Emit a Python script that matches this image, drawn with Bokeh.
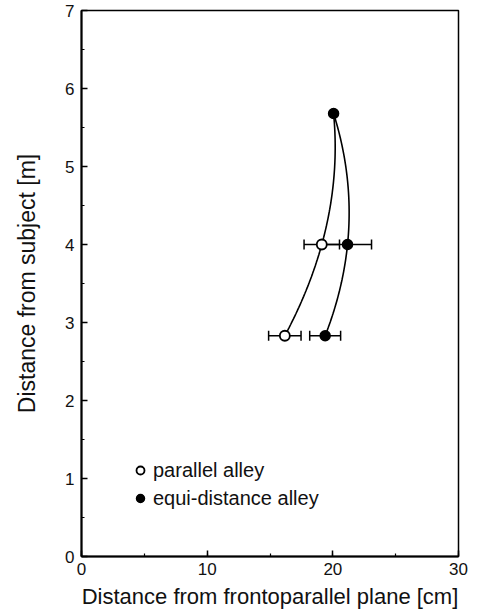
import numpy as np
from bokeh.plotting import figure
from bokeh.models import (ColumnDataSource, Whisker, TeeHead, SingleIntervalTicker,
                          Legend, LegendItem, Range1d)
from bokeh.embed import file_html
from bokeh.resources import INLINE

# ---- data ----
y_levels = [2.83, 4.0, 5.68]            # distance from subject [m]
parallel_x = [16.18, 19.12, 20.06]      # parallel alley [cm]
parallel_err = [1.29, 1.41, 0.0]
equi_x = [19.39, 21.17, 20.06]          # equi-distance alley [cm]
equi_err = [1.23, 1.91, 0.0]
x_ticks = [0, 10, 20, 30]
y_ticks = [0, 1, 2, 3, 4, 5, 6, 7]

FONT = "Liberation Sans"

p = figure(width=488, height=615, output_backend="svg", toolbar_location=None,
           x_range=Range1d(0, 30), y_range=Range1d(0, 7),
           min_border_left=81, min_border_right=30, min_border_top=10, min_border_bottom=59,
           frame_width=377, frame_height=546)
p.grid.visible = False
p.outline_line_color = "black"
p.outline_line_width = 1.5
p.background_fill_color = "white"
p.border_fill_color = "white"

p.xaxis.ticker = SingleIntervalTicker(interval=10, num_minor_ticks=2)
p.yaxis.ticker = SingleIntervalTicker(interval=1, num_minor_ticks=2)
for ax in (p.xaxis[0], p.yaxis[0]):
    ax.axis_line_width = 2
    ax.axis_line_color = "black"
    ax.major_tick_in = 6
    ax.major_tick_out = 0
    ax.minor_tick_in = 3
    ax.minor_tick_out = 0
    ax.major_tick_line_width = 1.5
    ax.minor_tick_line_width = 1.2
    ax.major_label_text_font = FONT
    ax.major_label_text_font_size = "17px"
    ax.major_label_text_color = "#111111"
    ax.axis_label_text_font = FONT
    ax.axis_label_text_font_style = "normal"
    ax.axis_label_text_color = "#111111"
p.xaxis.axis_label_text_font_size = "22px"
p.yaxis.axis_label_text_font_size = "23px"
p.xaxis.major_label_standoff = 6
p.yaxis.major_label_standoff = 7
p.xaxis.axis_label = "Distance from frontoparallel plane [cm]"
p.yaxis.axis_label = "Distance from subject [m]"
p.xaxis.axis_label_standoff = 6
p.yaxis.axis_label_standoff = 22

# fitted smooth curves (quadratic in y through the three points)
yy = np.linspace(y_levels[0], y_levels[-1], 80)
cp = np.polyfit(y_levels, parallel_x, 2)
ce = np.polyfit(y_levels, equi_x, 2)
p.line(np.polyval(cp, yy), yy, line_color="black", line_width=1.6)
p.line(np.polyval(ce, yy), yy, line_color="black", line_width=1.6)

# error bars
for xs, es in ((parallel_x, parallel_err), (equi_x, equi_err)):
    xs_e = [x for x, e in zip(xs, es) if e > 0]
    ys_e = [y for y, e in zip(y_levels, es) if e > 0]
    ee = [e for e in es if e > 0]
    src = ColumnDataSource(dict(y=ys_e, lo=[x - e for x, e in zip(xs_e, ee)],
                                hi=[x + e for x, e in zip(xs_e, ee)]))
    w = Whisker(base="y", lower="lo", upper="hi", dimension="width", source=src,
                line_color="black", line_width=1.5,
                lower_head=TeeHead(size=10, line_width=1.5, line_color="black"),
                upper_head=TeeHead(size=10, line_width=1.5, line_color="black"))
    p.add_layout(w)

r_eq = p.scatter(equi_x, y_levels, size=10, fill_color="black", line_color="black", line_width=1.5)
r_par = p.scatter(parallel_x[:2], y_levels[:2], size=10, fill_color="white",
                  line_color="black", line_width=1.8)

legend = Legend(items=[LegendItem(label="parallel alley", renderers=[r_par]),
                       LegendItem(label="equi-distance alley", renderers=[r_eq])],
                location=(49, 46), glyph_width=20, glyph_height=24, label_standoff=3,
                spacing=4, padding=0, margin=0, border_line_color=None,
                background_fill_alpha=0, label_text_font=FONT,
                label_text_font_size="20px", label_text_color="#111111")
p.add_layout(legend)

open("out.html", "w").write(file_html(p, INLINE))
